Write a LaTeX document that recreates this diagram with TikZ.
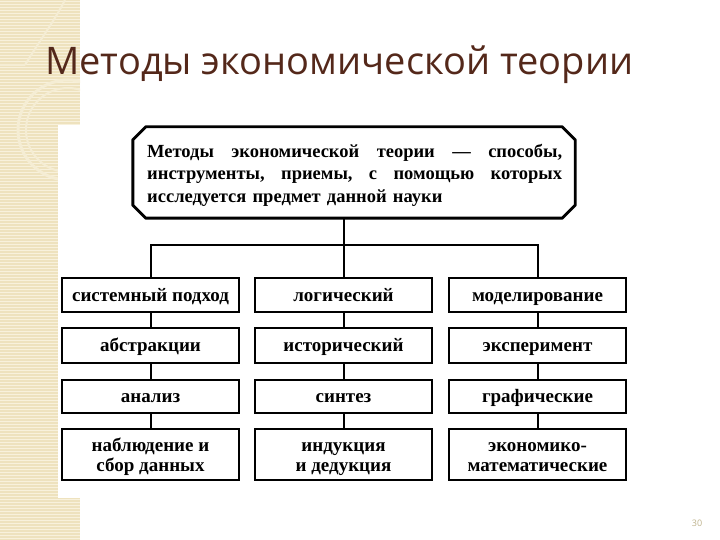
\documentclass[tikz,border=0pt]{standalone}
\usepackage{fontspec}
\setmainfont{Liberation Serif}
\newfontfamily\titlefont{Open Sans}
\definecolor{band}{RGB}{238,226,190}
\definecolor{stripe}{RGB}{248,241,220}
\definecolor{ringc}{RGB}{245,237,212}
\definecolor{titlec}{RGB}{84,40,26}
\definecolor{numc}{RGB}{190,178,140}
\newcommand{\topstr}{\rule{0pt}{18pt}}
\newcommand{\botstr}{\rule[-5pt]{0pt}{5pt}}
\tikzset{
  mbox/.style={draw=black, line width=2.8pt, minimum width=177pt, inner sep=2pt,
    font=\fontsize{19}{20}\selectfont\bfseries, align=center, fill=white},
  onel/.style={text height=14pt, text depth=2pt},
  conn/.style={draw=black, line width=2pt},
}
\begin{document}
\begin{tikzpicture}[x=1pt,y=-1pt]
\useasboundingbox (0,0) rectangle (720,540);
% left decorative band
\fill[band] (0,0) rectangle (80,540);
\foreach \yy in {1.5,4.5,...,540} {\draw[stripe, line width=0.9pt] (0,\yy) -- (80,\yy);}
\begin{scope}
\clip (0,0) rectangle (80,540);
\draw[ringc, line width=3pt] (68,130) circle (50);
\draw[ringc, line width=2pt] (68,130) circle (42);
\draw[ringc, line width=2pt] (25,65) .. controls (40,40) and (55,20) .. (65,0);
\draw[ringc, line width=1.5pt] (0,65) -- (25,65);
\end{scope}
\fill[white] (58,125) rectangle (90,498);
% title
\node[anchor=base west, inner sep=0pt, text=titlec, font=\titlefont\fontsize{38}{40}\selectfont] (title) at (45,75) {Методы экономической теории};
% top box
\node[minimum width=442pt, minimum height=91pt, inner sep=0pt] (t) at (354,172.5) {};
\draw[line width=2.9pt, line join=round]
  ([xshift=13pt]t.north west) -- ([xshift=-13pt]t.north east) -- ([yshift=-13pt]t.north east)
  -- ([yshift=13pt]t.south east) -- ([xshift=-13pt]t.south east) -- ([xshift=13pt]t.south west)
  -- ([yshift=13pt]t.south west) -- ([yshift=-13pt]t.north west) -- cycle;
\node[anchor=north west, inner sep=0pt, text width=415pt, align=left,
  font=\fontsize{18.5}{22.5}\selectfont\bfseries] (tt) at (147,144)
  {\makebox[415pt][l]{Методы \hfill экономической \hfill теории \hfill — \hfill способы,}\\
   \makebox[415pt][l]{инструменты, \hfill приемы, \hfill с \hfill помощью \hfill которых}\\
   исследуется предмет данной науки};
% boxes
\node[mbox, onel, minimum height=34pt] (a1) at (150.5,295) {системный подход};
\node[mbox, onel, minimum height=34pt] (b1) at (343.5,295) {логический};
\node[mbox, onel, minimum height=34pt] (c1) at (537.5,295) {моделирование};
\node[mbox, onel, minimum height=35pt] (a2) at (150.5,345.5) {абстракции};
\node[mbox, onel, minimum height=35pt] (b2) at (343.5,345.5) {исторический};
\node[mbox, onel, minimum height=35pt] (c2) at (537.5,345.5) {эксперимент};
\node[mbox, onel, minimum height=33pt] (a3) at (150.5,396.5) {анализ};
\node[mbox, onel, minimum height=33pt] (b3) at (343.5,396.5) {синтез};
\node[mbox, onel, minimum height=33pt] (c3) at (537.5,396.5) {графические};
\node[mbox, minimum height=51pt] (a4) at (150.5,454.5) {\topstr наблюдение и\\сбор данных\botstr};
\node[mbox, minimum height=51pt] (b4) at (343.5,454.5) {\topstr индукция\\и дедукция\botstr};
\node[mbox, minimum height=51pt] (c4) at (537.5,454.5) {\topstr экономико-\\математические\botstr};
% connectors
\coordinate (j) at (343.5,245);
\draw[conn] (j |- t.south) -- (j);
\draw[conn] (a1.north) |- (j) -| (c1.north);
\draw[conn] (j) -- (b1.north);
\foreach \c in {a,b,c}{
  \draw[conn] (\c1.south) -- (\c2.north);
  \draw[conn] (\c2.south) -- (\c3.north);
  \draw[conn] (\c3.south) -- (\c4.north);
}
% slide number
\node[text=numc, font=\titlefont\fontsize{9}{10}\selectfont] (num) at (697,523) {30};
\end{tikzpicture}
\end{document}
